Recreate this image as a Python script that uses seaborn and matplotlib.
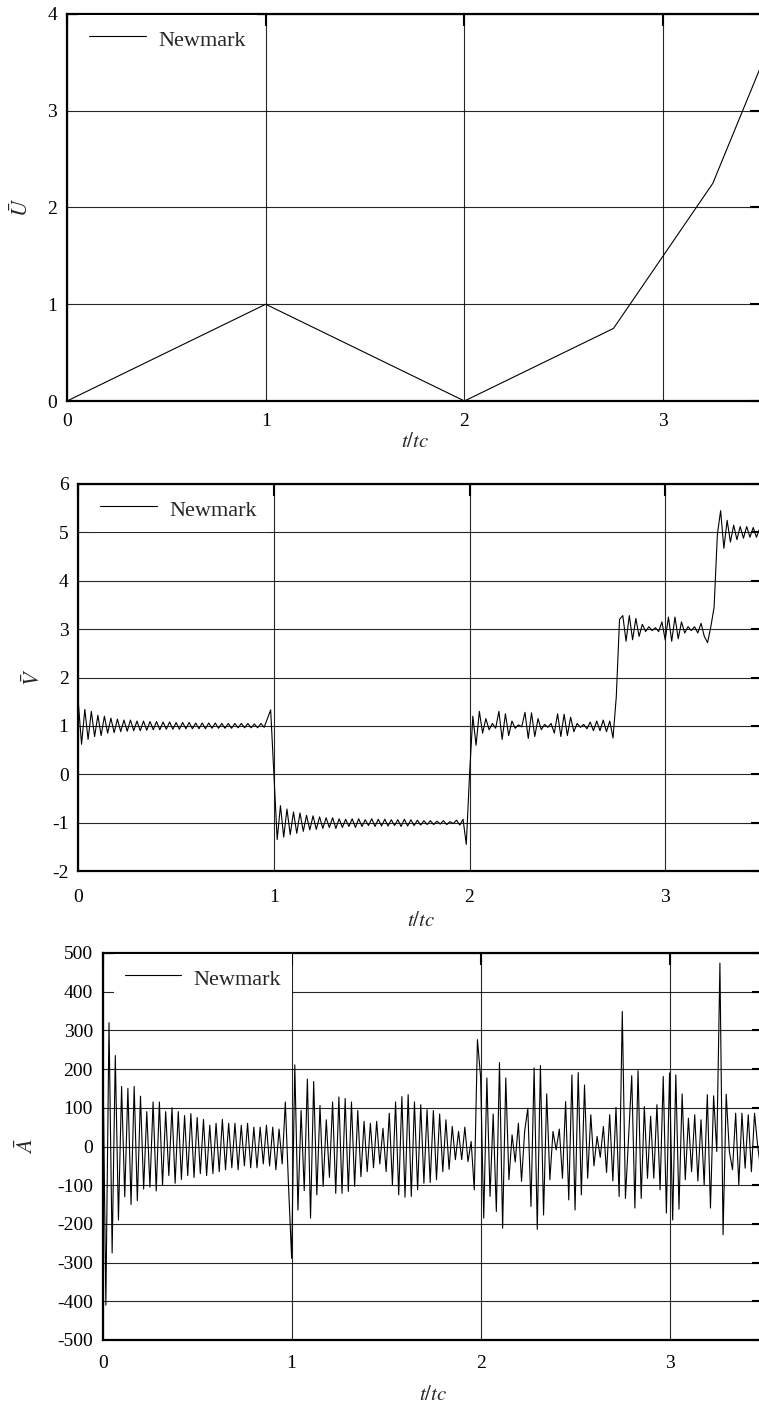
import numpy as np
import pandas as pd
import matplotlib
matplotlib.use("Agg")
import matplotlib.pyplot as plt
import seaborn as sns

# ---------------- data ----------------
# segment boundaries (t/tc)
seg_bounds = [0.0, 1.0, 2.0, 2.75, 3.25, 3.5]

# displacement (piecewise linear)
U_t = [0.0, 1.0, 2.0, 2.75, 3.25, 3.5]
U_vals = [0.0, 1.0, 0.0, 0.75, 2.25, 3.5]

# velocity samples per segment
V_seg1 = [1.48, 0.62, 1.34, 0.72, 1.30, 0.78, 1.22, 0.80, 1.20, 0.85,
          1.16, 0.86, 1.14, 0.88, 1.12, 0.89, 1.12, 0.90, 1.10, 0.90,
          1.10, 0.91, 1.09, 0.92, 1.09, 0.92, 1.08, 0.93, 1.08, 0.93,
          1.07, 0.93, 1.07, 0.94, 1.07, 0.94, 1.06, 0.94, 1.06, 0.94,
          1.06, 0.95, 1.06, 0.95, 1.05, 0.95, 1.05, 0.95, 1.05, 0.96,
          1.05, 0.96, 1.05, 0.96, 1.04, 0.96, 1.05, 0.97, 1.15, 1.33,
          0.0]
V_seg2 = [-1.35, -0.65, -1.30, -0.72, -1.25, -0.78, -1.22, -0.80, -1.18, -0.85,
          -1.15, -0.86, -1.14, -0.88, -1.12, -0.90, -1.10, -0.90, -1.12, -0.92,
          -1.10, -0.93, -1.08, -0.92, -1.10, -0.92, -1.08, -0.94, -1.06, -0.92,
          -1.08, -0.93, -1.07, -0.93, -1.07, -0.94, -1.06, -0.94, -1.08, -0.93,
          -1.07, -0.94, -1.06, -0.95, -1.05, -0.96, -1.04, -0.96, -1.04, -0.97,
          -1.03, -0.96, -1.04, -0.98, -1.02, -0.95, -1.05, -0.93, -1.45, 0.0]
V_seg3 = [1.20, 0.60, 1.30, 0.85, 1.15, 0.92, 1.05, 0.95, 1.30, 0.72,
          1.25, 0.80, 1.10, 0.95, 1.02, 0.98, 1.28, 0.74, 1.27, 0.78,
          1.15, 0.92, 1.03, 0.97, 1.05, 0.85, 1.25, 0.78, 1.24, 0.80,
          1.18, 0.88, 1.05, 0.97, 1.03, 0.94, 1.08, 0.90, 1.10, 0.90,
          1.12, 0.88, 1.10, 0.75, 1.60]
V_seg4 = [3.20, 3.28, 2.75, 3.28, 2.78, 3.22, 2.85, 3.10, 2.95, 3.05,
          2.97, 3.03, 2.95, 3.15, 2.78, 3.25, 2.75, 3.25, 2.80, 3.15,
          2.92, 3.05, 2.97, 3.05, 2.92, 3.12, 2.85, 2.72, 3.05, 3.45]
V_seg5 = [4.95, 5.45, 4.67, 5.25, 4.80, 5.15, 4.85, 5.12, 4.88, 5.12,
          4.90, 5.10, 4.90, 5.08, 4.95]

# acceleration samples per segment
A_seg1 = [280, -410, 320, -275, 235, -190, 155, -130, 150, -150,
          155, -140, 130, -110, 90, -105, 115, -115, 115, -100,
          90, -75, 100, -95, 90, -85, 80, -75, 85, -80,
          75, -70, 70, -75, 55, -70, 60, -65, 70, -60,
          60, -55, 60, -60, 55, -50, 60, -55, 50, -55,
          50, -45, 55, -50, 50, -60, 45, -45, 115, -100,
          -289]
A_seg2 = [211, -164, 93, -114, 174, -185, 168, -125, 106, -103,
          69, -80, 115, -121, 128, -121, 124, -116, 115, -103,
          93, -78, 65, -65, 60, -55, 65, -45, 47, -65,
          86, -99, 115, -125, 129, -131, 134, -129, 115, -112,
          108, -95, 95, -93, 93, -86, 84, -65, 69, -59,
          52, -34, 39, -34, 50, -39, 13, -112, 276, 180]
A_seg3 = [-185, 177, -129, 84, -168, 217, -211, 177, -86, 30,
          -40, 60, -90, 40, 99, -155, 203, -214, 209, -177,
          136, -86, 39, -9, 45, -82, 116, -138, 185, -164,
          191, -125, 159, -82, 82, -50, 26, -28, 52, -67,
          82, -89, 101, -129, 349]
A_seg4 = [-134, 26, 183, -159, 196, -134, 103, -82, 78, -82,
          108, -112, 181, -172, 190, -190, 185, -162, 136, -86,
          73, -65, 82, -89, 69, -99, 134, -159, 131, -13]
A_seg5 = [474, -228, 135, -13, -60, 86, -99, 86, -56, 82,
          -65, 86, 0, -60, 80]

x_ticks = [0, 1, 2, 3]
U_ticks = [0, 1, 2, 3, 4]
V_ticks = [-2, -1, 0, 1, 2, 3, 4, 5, 6]
A_ticks = [-500, -400, -300, -200, -100, 0, 100, 200, 300, 400, 500]


def build_series(segments):
    ts, vs = [], []
    for k, seg in enumerate(segments):
        a, b = seg_bounds[k], seg_bounds[k + 1]
        if k == 0:
            tt = np.linspace(a, b, len(seg))
        else:
            tt = np.linspace(a, b, len(seg) + 1)[1:]
        ts.extend(tt)
        vs.extend(seg)
    return pd.DataFrame({"t": ts, "v": vs})


df_U = pd.DataFrame({"t": U_t, "v": U_vals})
df_V = build_series([V_seg1, V_seg2, V_seg3, V_seg4, V_seg5])
df_A = build_series([A_seg1, A_seg2, A_seg3, A_seg4, A_seg5])

# ---------------- style ----------------
sns.set_theme(style="white")
plt.rcParams["font.family"] = ["Liberation Serif", "DejaVu Serif"]
plt.rcParams["mathtext.fontset"] = "stix"
plt.rcParams["axes.unicode_minus"] = False

W, H = 759, 1415
fig = plt.figure(figsize=(W / 100, H / 100), dpi=100)

# panel geometry in pixels: (left, top, right_at_3.5, bottom)
panels = [
    (67.0, 14.0, 762.5, 401.0),
    (78.3, 484.0, 763.0, 871.0),
    (102.7, 953.0, 764.0, 1340.0),
]
data = [df_U, df_V, df_A]
ylims = [(0, 4), (-2, 6), (-500, 500)]
yticks = [U_ticks, V_ticks, A_ticks]
ylabels = [r"$\bar{U}$", r"$\bar{V}$", r"$\bar{A}$"]
ylabel_x = [33, 45, 38]
xtick_pad = [9, 13, 11]
xlabel_pad = [2, 4, 10]

for i, ((l, t, r, b), df, yl, yt, lab, lx) in enumerate(
        zip(panels, data, ylims, yticks, ylabels, ylabel_x)):
    ax = fig.add_axes([l / W, 1 - b / H, (r - l) / W, (b - t) / H])
    ax.grid(True, color="black", linewidth=0.8, alpha=0.85)
    ax.set_axisbelow(True)
    sns.lineplot(data=df, x="t", y="v", ax=ax, color="black", linewidth=0.8,
                 estimator=None, sort=False, label="Newmark")
    ax.set_xlim(0, 3.5)
    ax.set_ylim(*yl)
    ax.set_xticks(x_ticks)
    ax.set_yticks(yt)
    ax.tick_params(direction="in", length=8.5, width=1.5, top=True, right=True,
                   labelsize=14, colors="black")
    ax.tick_params(axis="y", pad=7)
    ax.tick_params(axis="x", pad=xtick_pad[i])
    for sp in ax.spines.values():
        sp.set_linewidth(1.6)
        sp.set_color("black")
    ax.set_xlabel(r"$t/tc$", fontsize=15, labelpad=xlabel_pad[i])
    ax.set_ylabel(lab, fontsize=16)
    ax.yaxis.set_label_coords((lx - l) / (r - l), 0.5)
    leg = ax.legend(loc="upper left", bbox_to_anchor=(11.0 / (r - l), 1 - 1.5 / (b - t)),
                    borderaxespad=0, fontsize=16, frameon=True, fancybox=False,
                    handlelength=2.55, handletextpad=0.55, handleheight=1.3,
                    borderpad=0.5)
    leg.get_frame().set_facecolor("white")
    leg.get_frame().set_edgecolor("none")
    leg.get_frame().set_alpha(1.0)

fig.savefig("out.png", dpi=100)
